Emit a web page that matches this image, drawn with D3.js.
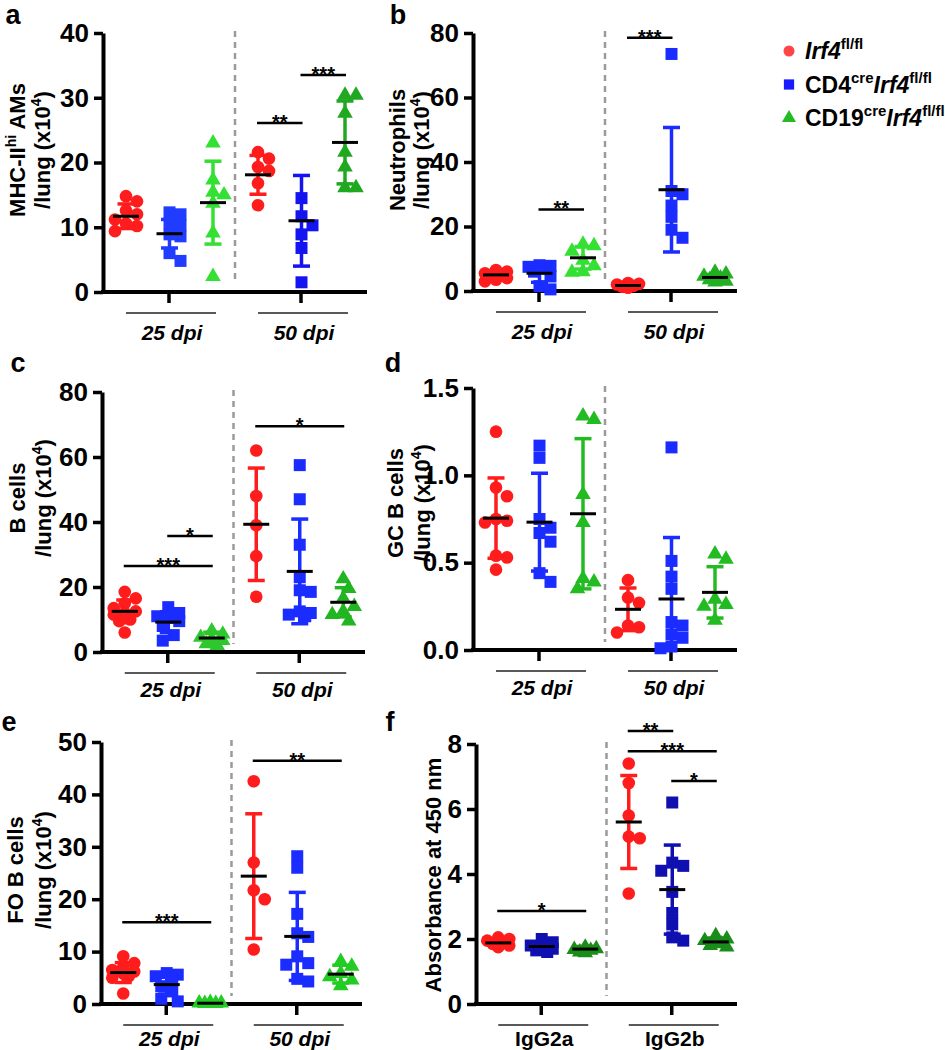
<!DOCTYPE html>
<html><head><meta charset="utf-8">
<script src="https://cdn.jsdelivr.net/npm/d3@7"></script>
<style>html,body{margin:0;padding:0;background:#fff;} svg{display:block;}</style>
</head><body>
<script>
// ---------------- DATA ----------------
const dpiCategories = ["25 dpi", "50 dpi"];
const iggCategories = ["IgG2a", "IgG2b"];
const seriesKeys = ["Irf4fl/fl", "CD4creIrf4fl/fl", "CD19creIrf4fl/fl"];

// a: MHC-II hi AMs
const amsTicks = [0, 10, 20, 30, 40];
const amsPoints = [
  [[14.8, 14.0, 12.6, 12.0, 11.2, 10.6, 10.2, 9.4],
   [12.3, 12.0, 10.6, 10.3, 8.9, 8.6, 6.0, 4.8],
   [23.0, 17.3, 15.4, 15.0, 13.7, 9.1, 2.4]],
  [[21.6, 20.6, 19.3, 18.7, 16.8, 13.4],
   [14.5, 11.7, 10.3, 8.9, 6.8, 1.5],
   [30.4, 30.4, 27.6, 21.6, 19.3, 16.1, 16.1]]
];
const amsMean = [[11.7, 9.0, 13.8], [18.1, 11.0, 23.1]];
const amsSD = [[1.9, 2.2, 6.4], [3.0, 7.0, 6.4]];
const amsSig = [[1, 0, 1, 26.1, "**"], [1, 1, 2, 33.5, "***"]];

// b: Neutrophils
const neuTicks = [0, 20, 40, 60, 80];
const neuPoints = [
  [[6.5, 6.0, 5.5, 5.0, 4.5, 4.0, 3.5, 3.0],
   [8.0, 7.8, 7.5, 7.0, 6.0, 4.5, 1.5, 0.5],
   [14.5, 14.0, 12.3, 9.5, 7.8, 6.0, 5.8]],
  [[2.5, 2.2, 2.0, 1.6, 1.3, 1.0],
   [73.5, 31.0, 30.0, 26.5, 23.0, 19.0, 16.5],
   [5.8, 5.3, 4.6, 4.0, 3.5, 3.0, 2.8]]
];
const neuMean = [[5.0, 5.5, 10.3], [1.7, 31.4, 4.2]];
const neuSD = [[1.2, 2.8, 3.5], [0.5, 19.3, 0.9]];
const neuSig = [[0, 1, 2, 25.3, "**"], [1, 0, 1, 78.5, "***"]];

// c: B cells
const bTicks = [0, 20, 40, 60, 80];
const bPoints = [
  [[18.5, 16.5, 15.0, 13.5, 12.5, 12.0, 11.5, 10.0, 9.5, 6.0],
   [13.8, 12.0, 11.0, 10.5, 9.5, 8.0, 5.2, 3.5],
   [6.5, 5.5, 4.5, 4.0, 3.5, 2.5, 2.0]],
  [[62.0, 48.0, 39.0, 29.5, 17.0],
   [57.5, 47.0, 33.0, 23.0, 19.0, 18.5, 12.5, 12.0, 11.5, 11.0],
   [22.5, 19.5, 16.5, 14.0, 12.5, 11.5, 9.5]]
];
const bMean = [[12.5, 9.2, 4.3], [39.3, 24.8, 15.3]];
const bSD = [[3.5, 3.2, 1.8], [17.3, 16.1, 4.5]];
const bSig = [[0, 1, 2, 35.7, "*"], [0, 0, 2, 26.5, "***"], [1, 0, 2, 69.5, "*"]];

// d: GC B cells
const gcTicks = [0, 0.5, 1.0, 1.5];
const gcPoints = [
  [[1.25, 0.93, 0.88, 0.75, 0.74, 0.73, 0.54, 0.53, 0.46],
   [1.17, 1.10, 0.75, 0.70, 0.67, 0.62, 0.44, 0.39],
   [1.34, 1.32, 0.89, 0.73, 0.41, 0.39, 0.35]],
  [[0.40, 0.30, 0.27, 0.14, 0.13, 0.10],
   [1.16, 0.51, 0.42, 0.35, 0.16, 0.14, 0.09, 0.07, 0.02, 0.01],
   [0.55, 0.52, 0.29, 0.26, 0.25, 0.17]]
];
const gcMean = [[0.755, 0.732, 0.78], [0.233, 0.292, 0.33]];
const gcSD = [[0.23, 0.28, 0.43], [0.122, 0.352, 0.147]];
const gcSig = [];

// e: FO B cells
const foTicks = [0, 10, 20, 30, 40, 50];
const foPoints = [
  [[9.1, 7.8, 7.0, 6.5, 6.2, 5.8, 5.3, 5.0, 2.0],
   [5.9, 5.6, 5.3, 4.6, 3.4, 2.4, 1.0, 0.5],
   [0.3, 0.2, 0.2, 0.1, 0.1, 0.1]],
  [[42.5, 27.0, 21.7, 20.0, 10.4],
   [28.2, 26.0, 17.2, 13.5, 12.8, 9.1, 7.8, 7.5, 4.8, 4.3],
   [8.1, 7.2, 5.8, 5.2, 4.6, 3.5]]
];
const foMean = [[6.0, 3.7, 0.15], [24.4, 12.9, 5.7]];
const foSD = [[1.9, 1.8, 0.1], [11.9, 8.4, 1.7]];
const foSig = [[0, 0, 2, 15.6, "***"], [1, 0, 2, 46.4, "**"]];

// f: Absorbance
const absTicks = [0, 2, 4, 6, 8];
const absPoints = [
  [[2.05, 2.0, 1.95, 1.9, 1.85, 1.8, 1.75],
   [2.0, 1.9, 1.8, 1.75, 1.7, 1.65, 1.6],
   [1.75, 1.7, 1.68, 1.65, 1.6, 1.58]],
  [[7.4, 6.8, 5.8, 5.15, 5.1, 3.4],
   [6.2, 4.35, 4.25, 4.1, 3.45, 2.8, 2.45, 2.05, 1.95],
   [2.1, 2.0, 1.95, 1.9, 1.85, 1.8, 1.75]]
];
const absMean = [[1.88, 1.77, 1.69], [5.6, 3.52, 1.91]];
const absSD = [[0.12, 0.14, 0.08], [1.43, 1.37, 0.12]];
const absSig = [[0, 0, 2, 2.86, "*"], [1, 0, 1, 8.4, "**"], [1, 0, 2, 7.78, "***"], [1, 1, 2, 6.86, "*"]];

// ---------------- STYLE / LAYOUT ----------------
const FONT = "'Liberation Sans', Arial, Helvetica, sans-serif";
const RED = "#ff1c1c";
const svg = d3.select("body").append("svg").attr("width", 945).attr("height", 1050)
  .style("font-family", FONT).style("font-weight", "bold");

const shapes = [d3.symbolCircle, d3.symbolSquare, d3.symbolTriangle];
const shapeSize = [125, 144, 105];

// deterministic compact beeswarm: offsets limited to a few steps, overlap allowed
function swarm(ys, ms) {
  const order = ys.map((v, i) => i).sort((a, b) => ys[a] - ys[b]);
  const cands = [0, 5.5, -5.5, 11, -11];
  const placed = [], out = [];
  for (const i of order) {
    let best = 0, bestD = -1;
    for (const dx of cands) {
      const dmin = placed.length ? d3.min(placed, p => Math.hypot(p.x - dx, p.y - ys[i])) : Infinity;
      if (dmin >= ms * 0.9) { best = dx; bestD = Infinity; break; }
      if (dmin > bestD + 0.5) { bestD = dmin; best = dx; }
    }
    placed.push({x: best, y: ys[i]});
    out[i] = best;
  }
  return out;
}

function addRich(textSel, parts, supSize, supDy) {
  let pending = 0;
  parts.forEach(([t, kind]) => {
    const ts = textSel.append("tspan").text(t);
    if (kind === "sup") {
      ts.attr("dy", pending - supDy).attr("font-size", supSize);
      pending = supDy;
    } else {
      if (pending) ts.attr("dy", pending);
      pending = 0;
      if (kind === "i") ts.attr("font-style", "italic");
    }
  });
}

function drawPanel(p) {
  const g = svg.append("g");
  const yMax = p.ticks[p.ticks.length - 1];
  const y = d3.scaleLinear().domain([0, yMax]).range([p.bottom, p.top]);
  const x0 = d3.scaleBand().domain(p.categories).range([p.left, p.right]);
  const x1 = d3.scalePoint().domain([0, 1, 2]).range([-43, 44]);
  const cx = c => x0(c) + x0.bandwidth() / 2;

  // panel letter
  g.append("text").attr("x", p.letterX).attr("y", p.letterY).attr("font-size", 27)
    .attr("text-anchor", "middle").text(p.letter);

  // dashed separator
  g.append("line").attr("x1", x0(p.categories[1])).attr("x2", x0(p.categories[1]))
    .attr("y1", p.top - 2).attr("y2", p.bottom - 8)
    .attr("stroke", "#9a9a9a").attr("stroke-width", 2.5).attr("stroke-dasharray", "6,5");

  // y axis
  const ya = g.append("g").attr("transform", `translate(${p.left},0)`)
    .call(d3.axisLeft(y).tickValues(p.ticks).tickFormat(p.fmt).tickSize(9).tickSizeOuter(0).tickPadding(5));
  ya.select(".domain").attr("stroke-width", 4).attr("stroke", "#000");
  ya.selectAll(".tick line").attr("stroke-width", 3.5).attr("stroke", "#000");
  ya.selectAll(".tick text").attr("font-size", 26).attr("font-family", FONT).attr("font-weight", "bold").attr("fill", "#000");

  // x axis
  const xa = g.append("g").attr("transform", `translate(0,${p.bottom})`)
    .call(d3.axisBottom(x0).tickSize(11).tickSizeOuter(0).tickFormat(""));
  xa.select(".domain").attr("stroke-width", 4).attr("stroke", "#000").attr("d", `M${p.left - 2},0H${p.right}`);
  xa.selectAll(".tick line").attr("stroke-width", 3.5).attr("stroke", "#000");

  // group underlines + labels
  p.categories.forEach(c => {
    g.append("line").attr("x1", cx(c) - 43).attr("x2", cx(c) + 47)
      .attr("y1", p.bottom + 21).attr("y2", p.bottom + 21)
      .attr("stroke", "#222").attr("stroke-width", 1.6);
    g.append("text").attr("x", cx(c) + 3).attr("y", p.bottom + p.labDy)
      .attr("text-anchor", "middle").attr("font-size", 21)
      .attr("font-style", p.italicCats ? "italic" : "normal").text(c);
  });

  // y title
  p.title.forEach((line, li) => {
    const t = g.append("text").attr("text-anchor", "middle").attr("font-size", 22)
      .attr("transform", `translate(${p.titleX[li]},${p.titleY}) rotate(-90)`);
    addRich(t, line, 14, 9);
  });

  // groups
  p.categories.forEach((c, ci) => {
    [0, 1, 2].forEach(s => {
      const x = cx(c) + x1(s);
      const col = p.colors[ci][s];
      const m = p.mean[ci][s], sd = p.sd[ci][s];
      const lo = Math.max(0, m - sd), hi = m + sd;
      g.append("line").attr("x1", x).attr("x2", x).attr("y1", y(lo)).attr("y2", y(hi))
        .attr("stroke", col).attr("stroke-width", 3.5);
      const caps = [hi];
      if (m - sd >= 0) caps.push(m - sd);
      caps.forEach(v => g.append("line").attr("x1", x - 8.5).attr("x2", x + 8.5)
        .attr("y1", y(v)).attr("y2", y(v)).attr("stroke", col).attr("stroke-width", 3.5));
      const vals = p.points[ci][s];
      const offs = swarm(vals.map(v => y(v)), 12);
      g.selectAll(null).data(vals).enter().append("path")
        .attr("d", d3.symbol().type(shapes[s]).size(shapeSize[s]))
        .attr("transform", (v, i) => `translate(${x + offs[i]},${y(v)})`)
        .attr("fill", col);
      g.append("line").attr("x1", x - 13).attr("x2", x + 13).attr("y1", y(m)).attr("y2", y(m))
        .attr("stroke", "#000").attr("stroke-width", 3);
    });
  });

  // significance
  p.sig.forEach(([ci, a, b, v, lab]) => {
    const c = p.categories[ci];
    const xa1 = cx(c) + x1(a) - 1, xb = cx(c) + x1(b) + 1;
    g.append("line").attr("x1", xa1).attr("x2", xb).attr("y1", y(v)).attr("y2", y(v))
      .attr("stroke", "#000").attr("stroke-width", 2.5);
    g.append("text").attr("x", (xa1 + xb) / 2).attr("y", y(v) + 6).attr("text-anchor", "middle")
      .attr("font-size", 20).text(lab);
  });
}

const lungLine = [["/lung (x10", ""], ["4", "sup"], [")", ""]];
const fmtInt = d3.format("d"), fmt1 = d3.format(".1f");

drawPanel({letter: "a", letterX: 13, letterY: 24, left: 103, right: 367, top: 33, bottom: 292,
  categories: dpiCategories, italicCats: true, labDy: 48, ticks: amsTicks, fmt: fmtInt,
  points: amsPoints, mean: amsMean, sd: amsSD, sig: amsSig,
  colors: [[RED, "#1f3cff", "#33e033"], [RED, "#1414f0", "#20a820"]],
  title: [[["MHC-II", ""], ["hi", "sup"], [" AMs", ""]], lungLine], titleX: [25, 50], titleY: 150});

drawPanel({letter: "b", letterX: 398, letterY: 24, left: 473, right: 737, top: 33, bottom: 291,
  categories: dpiCategories, italicCats: true, labDy: 48, ticks: neuTicks, fmt: fmtInt,
  points: neuPoints, mean: neuMean, sd: neuSD, sig: neuSig,
  colors: [[RED, "#1a2cff", "#33e033"], [RED, "#1a2cff", "#22b022"]],
  title: [[["Neutrophils", ""]], lungLine], titleX: [405, 429], titleY: 150});

drawPanel({letter: "c", letterX: 18, letterY: 372, left: 102, right: 365, top: 392, bottom: 652,
  categories: dpiCategories, italicCats: true, labDy: 45, ticks: bTicks, fmt: fmtInt,
  points: bPoints, mean: bMean, sd: bSD, sig: bSig,
  colors: [[RED, "#1a2cff", "#2ec82e"], [RED, "#1a2cff", "#22b522"]],
  title: [[["B cells", ""]], lungLine], titleX: [25, 51], titleY: 498});

drawPanel({letter: "d", letterX: 393, letterY: 372, left: 473, right: 737, top: 388, bottom: 650,
  categories: dpiCategories, italicCats: true, labDy: 45, ticks: gcTicks, fmt: fmt1,
  points: gcPoints, mean: gcMean, sd: gcSD, sig: gcSig,
  colors: [[RED, "#1a2cff", "#22bb22"], [RED, "#1a2cff", "#22bb22"]],
  title: [[["GC B cells", ""]], lungLine], titleX: [403, 430], titleY: 503});

drawPanel({letter: "e", letterX: 9, letterY: 731, left: 101, right: 362, top: 742, bottom: 1004,
  categories: dpiCategories, italicCats: true, labDy: 42, ticks: foTicks, fmt: fmtInt,
  points: foPoints, mean: foMean, sd: foSD, sig: foSig,
  colors: [[RED, "#1a2cff", "#22cc22"], [RED, "#1a2cff", "#22cc22"]],
  title: [[["FO B cells", ""]], lungLine], titleX: [23, 51], titleY: 870});

drawPanel({letter: "f", letterX: 390, letterY: 731, left: 476, right: 737, top: 744, bottom: 1004,
  categories: iggCategories, italicCats: false, labDy: 42, ticks: absTicks, fmt: fmtInt,
  points: absPoints, mean: absMean, sd: absSD, sig: absSig,
  colors: [[RED, "#1010b0", "#1a8c1a"], [RED, "#1010b0", "#1a8c1a"]],
  title: [[["Absorbance at 450 nm", ""]]], titleX: [441], titleY: 875});

// legend
const legendParts = [
  [["Irf4", "i"], ["fl/fl", "sup"]],
  [["CD4", ""], ["cre", "sup"], ["Irf4", "i"], ["fl/fl", "sup"]],
  [["CD19", ""], ["cre", "sup"], ["Irf4", "i"], ["fl/fl", "sup"]]
];
const legendColors = ["#ff4545", "#1a1aff", "#22bb22"];
const legY = d3.scalePoint().domain(seriesKeys).range([51, 118]);
seriesKeys.forEach((k, i) => {
  svg.append("path").attr("d", d3.symbol().type(shapes[i]).size([95, 105, 85][i]))
    .attr("transform", `translate(789,${legY(k)})`).attr("fill", legendColors[i]);
  const t = svg.append("text").attr("x", 805).attr("y", legY(k) + 8).attr("font-size", 23);
  addRich(t, legendParts[i], 15, 10);
});
</script>
</body></html>
